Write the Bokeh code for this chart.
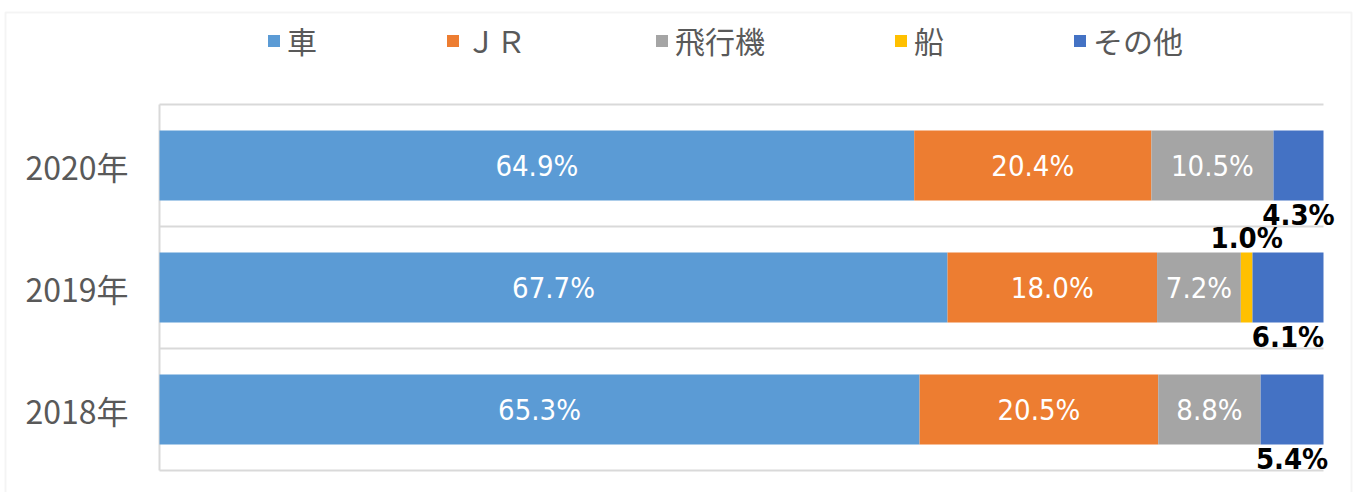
from bokeh.plotting import figure
from bokeh.models import ColumnDataSource, BoxAnnotation, Legend, LegendItem
from bokeh.core.properties import value
from bokeh.embed import file_html
from bokeh.resources import INLINE

years = ["2018年", "2019年", "2020年"]
modes = ["車", "ＪＲ", "飛行機", "船", "その他"]
car = [65.3, 67.7, 64.9]
jr = [20.5, 18.0, 20.4]
plane = [8.8, 7.2, 10.5]
ship = [0.0, 1.0, 0.0]
other = [5.4, 6.1, 4.3]
colors = ["#5B9BD5", "#ED7D31", "#A5A5A5", "#FFC000", "#4472C4"]

series = [car, jr, plane, ship, other]
ypos = [i + 0.5 for i in range(len(years))]
totals = [sum(s[i] for s in series) for i in range(len(years))]

data = {"y": ypos}
for name, s in zip(modes, series):
    data[name] = [v / t for v, t in zip(s, totals)]
source = ColumnDataSource(data)

# page layout (pixels)
W, H = 1357, 492
PL, PR, PT, PB = 159, 1323, 104, 470          # plot area
XPX = (PR - PL) / 1.0                          # pixels per unit of share
YPX = (PB - PT) / len(years)                   # pixels per category band


def gx(px):
    return (px - PL) / XPX


def gy(py):
    return (PB - py) / YPX


LABEL_FONT = "'Liberation Sans Narrow', 'DejaVu Sans Condensed', 'Roboto'"
JP_FONT = "Noto Sans CJK JP"
GRID = "#D9D9D9"

p = figure(width=W, height=H, x_range=(gx(0), gx(W)), y_range=(gy(H), gy(0)),
           output_backend="svg", toolbar_location=None,
           min_border_left=0, min_border_right=0, min_border_top=0, min_border_bottom=0)
p.outline_line_color = None
p.background_fill_color = "white"
p.border_fill_color = "white"
p.axis.visible = False
p.grid.visible = False

# outer chart border
p.add_layout(BoxAnnotation(left=gx(5), right=gx(1351), top=gy(12), bottom=gy(H + 20),
                           fill_color=None, line_color=GRID, line_width=2))

# category boundary lines and category axis line
bounds = list(range(len(years) + 1))
p.segment(x0=[0] * len(bounds), x1=[1] * len(bounds), y0=bounds, y1=bounds,
          line_color=GRID, line_width=2)
p.segment(x0=[0], x1=[0], y0=[0], y1=[len(years)], line_color=GRID, line_width=2)

renderers = p.hbar_stack(modes, y="y", height=0.574, color=colors, line_color=None, source=source)

# category labels
p.text(x=[gx(128)] * len(years), y=ypos, text=years, text_color="#595959",
       text_font=value(JP_FONT), text_font_size="32px", text_align="right",
       text_baseline="middle")

# data labels
in_x, in_y, in_t = [], [], []
out_x, out_y, out_t, out_off = [], [], [], []
for i in range(len(years)):
    left = 0.0
    for k, (name, s) in enumerate(zip(modes, series)):
        v = s[i]
        w = v / totals[i]
        c = left + w / 2
        left += w
        if v <= 0:
            continue
        txt = f"{v:.1f}%"
        if k < 3:
            in_x.append(c); in_y.append(ypos[i]); in_t.append(txt)
        else:
            out_x.append(c); out_y.append(ypos[i]); out_t.append(txt)
            out_off.append(-50 if name == "船" else 49)

p.text(x=in_x, y=in_y, text=in_t, text_color="white", text_font=value(LABEL_FONT),
       text_font_size="29px", text_align="center", text_baseline="middle")
p.text(x=out_x, y=out_y, text=out_t, y_offset=out_off, text_color="black",
       text_font=value(LABEL_FONT), text_font_style="bold",
       text_font_size="29px", text_align="center", text_baseline="middle")

legend = Legend(items=[LegendItem(label=m, renderers=[r]) for m, r in zip(modes, renderers)],
                orientation="horizontal", location=(266, H - 62),
                glyph_width=15, glyph_height=15, label_standoff=6, spacing=128,
                padding=0, margin=0, border_line_color=None, background_fill_alpha=0,
                label_text_font=JP_FONT, label_text_font_size="30px",
                label_text_color="#595959")
p.add_layout(legend)

open("out.html", "w").write(file_html(p, INLINE))
